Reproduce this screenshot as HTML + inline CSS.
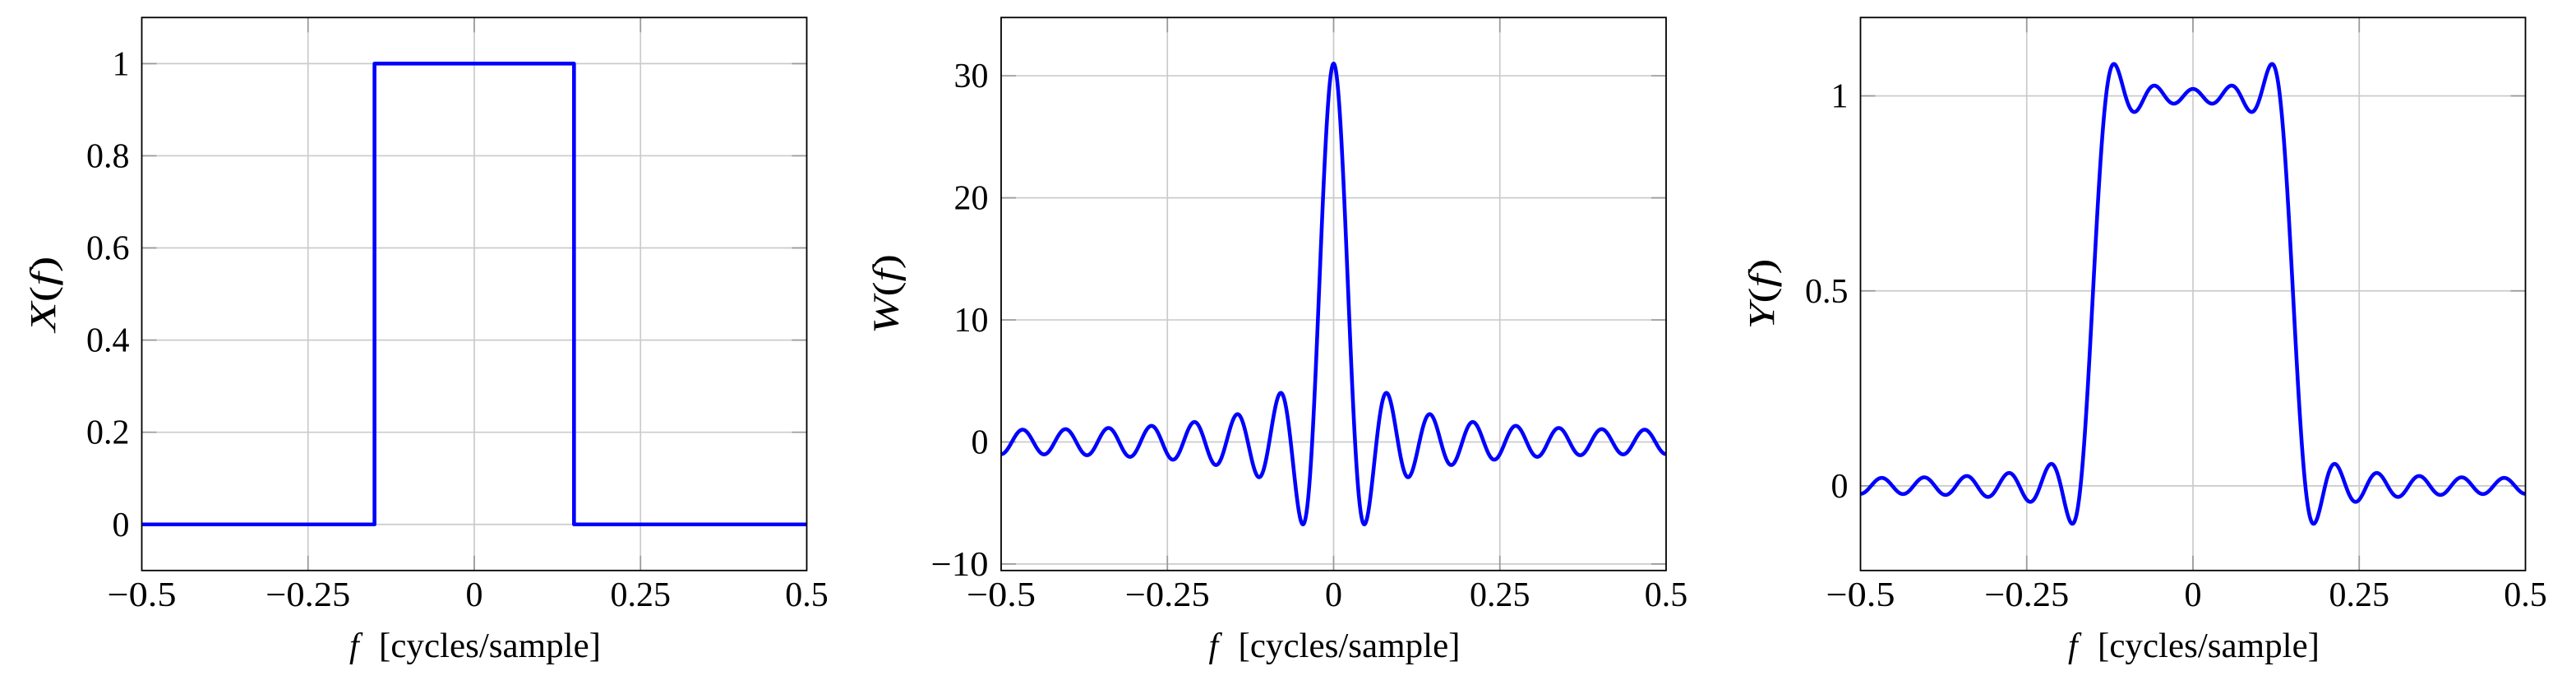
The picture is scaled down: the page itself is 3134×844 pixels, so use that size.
<!DOCTYPE html>
<html>
<head>
<meta charset="utf-8">
<style>
  html, body { margin: 0; padding: 0; background: #ffffff; }
  svg { display: block; }
  text { font-family: "Liberation Serif", "DejaVu Serif", serif; font-size: 42px; fill: #000; }
  .it { font-style: italic; }
  .yl { font-size: 44px; }
</style>
</head>
<body>
<svg id="s" width="3134" height="844" viewBox="0 0 3134 844" xmlns="http://www.w3.org/2000/svg">
  <rect x="0" y="0" width="3134" height="844" fill="#ffffff"/>
  <defs>
    <clipPath id="c1"><rect x="172.5" y="21.3" width="809" height="672.5"/></clipPath>
    <clipPath id="c2"><rect x="1218" y="21.3" width="809" height="672.5"/></clipPath>
    <clipPath id="c3"><rect x="2263.5" y="21.3" width="809" height="672.5"/></clipPath>
  </defs>
  <g id="grid"></g>
  <g id="ticks"></g>
  <g id="curves">
    <path clip-path="url(#c1)" d="M172.5,637.76 H455.65 V77.34 H698.35 V637.76 H981.5" fill="none" stroke="#0000ff" stroke-width="4.6" stroke-linejoin="round"/>
    <path id="pw" clip-path="url(#c2)" d="" fill="none" stroke="#0000ff" stroke-width="4.6" stroke-linejoin="round"/>
    <path id="py" clip-path="url(#c3)" d="" fill="none" stroke="#0000ff" stroke-width="4.6" stroke-linejoin="round"/>
  </g>
  <g fill="none" stroke="#000" stroke-width="1.8">
    <rect x="172.5" y="21.3" width="809" height="672.5"/>
    <rect x="1218" y="21.3" width="809" height="672.5"/>
    <rect x="2263.5" y="21.3" width="809" height="672.5"/>
  </g>

  <!-- Plot 1 labels -->
  <g text-anchor="end">
    <text x="157.5" y="91.3">1</text>
    <text x="157.5" y="203.4">0.8</text>
    <text x="157.5" y="315.5">0.6</text>
    <text x="157.5" y="427.6">0.4</text>
    <text x="157.5" y="539.7">0.2</text>
    <text x="157.5" y="651.8">0</text>
  </g>
  <g text-anchor="middle">
    <text x="172.5" y="737" textLength="84" lengthAdjust="spacingAndGlyphs">−0.5</text>
    <text x="374.75" y="737" textLength="103" lengthAdjust="spacingAndGlyphs">−0.25</text>
    <text x="577" y="737">0</text>
    <text x="779.25" y="737">0.25</text>
    <text x="981.5" y="737">0.5</text>
  </g>
  <text class="yl" transform="translate(67,357.5) rotate(-90)" text-anchor="middle" textLength="92" lengthAdjust="spacingAndGlyphs"><tspan class="it">X</tspan>(<tspan class="it">f</tspan>)</text>
  <text x="425" y="799" class="it">f</text>
  <text x="461" y="799" textLength="270" lengthAdjust="spacingAndGlyphs">[cycles/sample]</text>

  <!-- Plot 2 labels -->
  <g text-anchor="end">
    <text x="1202.5" y="106.2">30</text>
    <text x="1202.5" y="254.6">20</text>
    <text x="1202.5" y="403.0">10</text>
    <text x="1202.5" y="551.5">0</text>
    <text x="1202.5" y="699.9" textLength="70" lengthAdjust="spacingAndGlyphs">−10</text>
  </g>
  <g text-anchor="middle">
    <text x="1218" y="737" textLength="84" lengthAdjust="spacingAndGlyphs">−0.5</text>
    <text x="1420.25" y="737" textLength="103" lengthAdjust="spacingAndGlyphs">−0.25</text>
    <text x="1622.5" y="737">0</text>
    <text x="1824.75" y="737">0.25</text>
    <text x="2027" y="737">0.5</text>
  </g>
  <text class="yl" transform="translate(1092.7,357.5) rotate(-90)" text-anchor="middle" textLength="97" lengthAdjust="spacingAndGlyphs"><tspan class="it">W</tspan>(<tspan class="it">f</tspan>)</text>
  <text x="1470.5" y="799" class="it">f</text>
  <text x="1506.5" y="799" textLength="270" lengthAdjust="spacingAndGlyphs">[cycles/sample]</text>

  <!-- Plot 3 labels -->
  <g text-anchor="end">
    <text x="2248.5" y="130.6">1</text>
    <text x="2248.5" y="367.8">0.5</text>
    <text x="2248.5" y="604.9">0</text>
  </g>
  <g text-anchor="middle">
    <text x="2263.5" y="737" textLength="84" lengthAdjust="spacingAndGlyphs">−0.5</text>
    <text x="2465.75" y="737" textLength="103" lengthAdjust="spacingAndGlyphs">−0.25</text>
    <text x="2668" y="737">0</text>
    <text x="2870.25" y="737">0.25</text>
    <text x="3072.5" y="737">0.5</text>
  </g>
  <text class="yl" transform="translate(2158,357.5) rotate(-90)" text-anchor="middle" textLength="86" lengthAdjust="spacingAndGlyphs"><tspan class="it">Y</tspan>(<tspan class="it">f</tspan>)</text>
  <text x="2516" y="799" class="it">f</text>
  <text x="2552" y="799" textLength="270" lengthAdjust="spacingAndGlyphs">[cycles/sample]</text>
</svg>
<script>
(function(){
  var NS = 'http://www.w3.org/2000/svg';
  var T = 21.3, B = 693.8, H = 672.5, W = 809;
  var grid = document.getElementById('grid');
  var ticks = document.getElementById('ticks');
  function line(g, x1, y1, x2, y2, color, w) {
    var e = document.createElementNS(NS, 'line');
    e.setAttribute('x1', x1); e.setAttribute('y1', y1);
    e.setAttribute('x2', x2); e.setAttribute('y2', y2);
    e.setAttribute('stroke', color); e.setAttribute('stroke-width', w);
    g.appendChild(e);
  }
  var plots = [
    {L:172.5, ys:[77.34,189.43,301.51,413.6,525.68,637.76]},
    {L:1218, ys:[92.19,240.62,389.04,537.47,685.90]},
    {L:2263.5, ys:[116.63,353.76,590.89]}
  ];
  plots.forEach(function(p){
    var L = p.L, R = p.L + W;
    p.ys.forEach(function(y){
      line(grid, L, y, R, y, '#cbcbcb', 1.7);
      line(ticks, L, y, L + 18, y, '#999999', 1.7);
      line(ticks, R - 18, y, R, y, '#999999', 1.7);
    });
    [0.25, 0.5, 0.75].forEach(function(fr){
      var x = L + fr * W;
      line(grid, x, T, x, B, '#cbcbcb', 1.7);
      line(ticks, x, B, x, B - 18, '#999999', 1.7);
      line(ticks, x, T, x, T + 18, '#999999', 1.7);
    });
  });
  function build(L, ymin, ymax, fn, N) {
    var d = '';
    for (var i = 0; i <= N; i++) {
      var f = -0.5 + i / N;
      var x = L + (f + 0.5) * W;
      var y = T + (ymax - fn(f)) / (ymax - ymin) * H;
      d += (i ? 'L' : 'M') + x.toFixed(2) + ' ' + y.toFixed(2);
    }
    return d;
  }
  function Wf(f) {
    var s = Math.sin(Math.PI * f);
    if (Math.abs(s) < 1e-12) return 31;
    return Math.sin(31 * Math.PI * f) / s;
  }
  var coef = [];
  for (var n = 1; n <= 15; n++) coef.push(2 * Math.sin(0.3 * Math.PI * n) / (Math.PI * n));
  function Yf(f) {
    var v = 0.3;
    for (var n = 1; n <= 15; n++) v += coef[n - 1] * Math.cos(2 * Math.PI * f * n);
    return v;
  }
  document.getElementById('pw').setAttribute('d', build(1218, -10.533, 34.776, Wf, 2400));
  document.getElementById('py').setAttribute('d', build(2263.5, -0.217, 1.201, Yf, 2400));
})();
</script>
</body>
</html>
